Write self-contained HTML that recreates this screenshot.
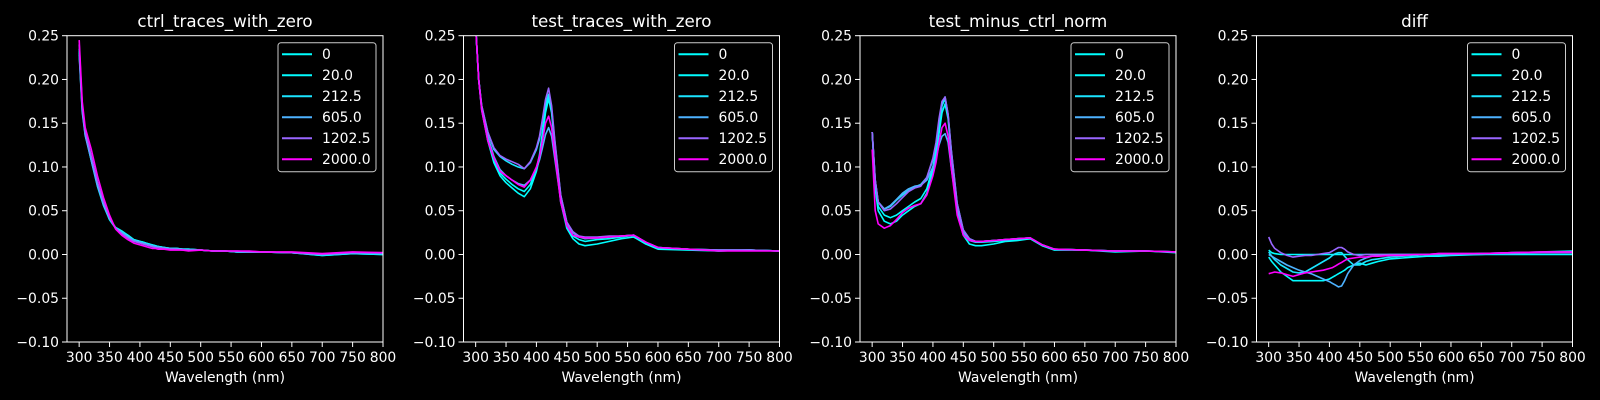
<!DOCTYPE html>
<html><head><meta charset="utf-8"><style>
html,body{margin:0;padding:0;background:#000;}
svg{display:block;}
text{font-family:"DejaVu Sans","Liberation Sans",sans-serif;fill:#fff;}
</style></head><body>
<svg id="fig" width="1600" height="400" xmlns="http://www.w3.org/2000/svg"></svg>
<script>
const wavelengths = [300,305,310,320,330,340,350,360,370,380,390,400,405,410,415,420,425,430,440,450,460,470,480,500,520,540,560,580,600,650,700,750,800];
const seriesLabels = ["0","20.0","212.5","605.0","1202.5","2000.0"];
const seriesColors = ["#00ffff","#03fcff","#1be4ff","#4db2ff","#9966ff","#ff00ff"];
const panelTitles = ["ctrl_traces_with_zero","test_traces_with_zero","test_minus_ctrl_norm","diff"];
const xTicks = [300,350,400,450,500,550,600,650,700,750,800];
const yTicks = [-0.10,-0.05,0.00,0.05,0.10,0.15,0.20,0.25];
const yTickLabels = ["\u22120.10","\u22120.05","0.00","0.05","0.10","0.15","0.20","0.25"];

const ctrl0 = [0.235,0.17,0.14,0.11,0.08,0.058,0.04,0.03,0.026,0.022,0.017,0.015,0.014,0.013,0.012,0.011,0.010,0.009,0.008,0.007,0.007,0.006,0.006,0.005,0.004,0.004,0.003,0.003,0.003,0.002,-0.001,0.001,0.000];
const ctrl1 = [0.232,0.168,0.138,0.108,0.079,0.057,0.04,0.031,0.027,0.022,0.017,0.015,0.014,0.013,0.012,0.011,0.010,0.009,0.008,0.007,0.007,0.006,0.006,0.005,0.004,0.004,0.003,0.003,0.003,0.002,-0.001,0.001,0.000];
const ctrl2 = [0.23,0.165,0.137,0.107,0.078,0.056,0.04,0.03,0.026,0.021,0.016,0.014,0.013,0.012,0.011,0.010,0.009,0.009,0.008,0.007,0.007,0.006,0.006,0.005,0.004,0.004,0.003,0.003,0.003,0.002,0.000,0.001,0.001];
const ctrl3 = [0.228,0.163,0.136,0.108,0.08,0.058,0.042,0.03,0.025,0.02,0.016,0.014,0.013,0.012,0.011,0.010,0.009,0.008,0.007,0.007,0.006,0.006,0.005,0.005,0.004,0.004,0.003,0.003,0.003,0.002,0.000,0.002,0.001];
const ctrl4 = [0.24,0.17,0.14,0.112,0.083,0.06,0.042,0.03,0.024,0.019,0.015,0.013,0.012,0.011,0.010,0.009,0.008,0.008,0.007,0.006,0.006,0.005,0.005,0.005,0.004,0.004,0.004,0.003,0.003,0.002,0.000,0.002,0.002];
const ctrl5 = [0.245,0.175,0.145,0.12,0.09,0.065,0.045,0.029,0.022,0.017,0.013,0.011,0.010,0.009,0.008,0.007,0.007,0.006,0.006,0.005,0.005,0.005,0.004,0.005,0.004,0.004,0.004,0.004,0.003,0.003,0.001,0.003,0.002];

const test0 = [0.26,0.2,0.165,0.13,0.105,0.09,0.082,0.076,0.07,0.066,0.075,0.095,0.11,0.135,0.162,0.178,0.162,0.125,0.06,0.03,0.018,0.012,0.01,0.012,0.015,0.018,0.02,0.012,0.006,0.005,0.004,0.005,0.004];
const test1 = [0.26,0.2,0.168,0.133,0.108,0.093,0.086,0.08,0.075,0.072,0.08,0.098,0.114,0.14,0.168,0.182,0.165,0.128,0.063,0.033,0.021,0.017,0.015,0.017,0.018,0.02,0.022,0.013,0.007,0.006,0.004,0.005,0.004];
const test2 = [0.26,0.2,0.17,0.14,0.12,0.112,0.107,0.103,0.1,0.098,0.105,0.12,0.132,0.152,0.172,0.183,0.166,0.13,0.068,0.037,0.025,0.02,0.018,0.019,0.02,0.021,0.022,0.014,0.008,0.006,0.005,0.005,0.004];
const test3 = [0.26,0.2,0.168,0.135,0.112,0.097,0.09,0.085,0.081,0.079,0.085,0.098,0.108,0.122,0.137,0.145,0.135,0.11,0.062,0.035,0.025,0.021,0.019,0.019,0.02,0.021,0.022,0.014,0.008,0.006,0.005,0.005,0.004];
const test4 = [0.26,0.2,0.17,0.14,0.122,0.113,0.109,0.106,0.103,0.098,0.106,0.122,0.135,0.155,0.177,0.19,0.17,0.132,0.068,0.037,0.026,0.021,0.02,0.02,0.021,0.021,0.022,0.014,0.008,0.006,0.005,0.005,0.004];
const test5 = [0.26,0.2,0.165,0.13,0.11,0.095,0.09,0.085,0.08,0.077,0.085,0.1,0.112,0.13,0.15,0.158,0.145,0.115,0.06,0.033,0.022,0.02,0.019,0.019,0.02,0.021,0.022,0.014,0.008,0.006,0.004,0.004,0.004];

const norm0 = [0.14,0.075,0.05,0.038,0.035,0.038,0.045,0.05,0.055,0.058,0.07,0.095,0.112,0.138,0.162,0.172,0.155,0.115,0.05,0.022,0.012,0.01,0.01,0.012,0.015,0.016,0.018,0.01,0.005,0.005,0.003,0.004,0.002];
const norm1 = [0.14,0.08,0.055,0.045,0.042,0.045,0.05,0.055,0.06,0.064,0.075,0.1,0.118,0.145,0.17,0.178,0.158,0.118,0.055,0.026,0.016,0.014,0.014,0.015,0.016,0.017,0.018,0.01,0.006,0.005,0.004,0.004,0.003];
const norm2 = [0.14,0.085,0.06,0.052,0.055,0.062,0.068,0.073,0.077,0.08,0.088,0.108,0.125,0.15,0.172,0.18,0.16,0.12,0.058,0.028,0.018,0.015,0.015,0.016,0.017,0.018,0.019,0.011,0.006,0.005,0.004,0.004,0.003];
const norm3 = [0.14,0.085,0.06,0.052,0.056,0.063,0.07,0.075,0.078,0.079,0.085,0.1,0.11,0.125,0.135,0.138,0.128,0.1,0.05,0.025,0.017,0.015,0.015,0.016,0.017,0.018,0.019,0.011,0.006,0.005,0.004,0.004,0.003];
const norm4 = [0.14,0.085,0.06,0.05,0.052,0.058,0.065,0.072,0.076,0.078,0.088,0.11,0.128,0.155,0.175,0.18,0.16,0.12,0.058,0.028,0.018,0.015,0.015,0.016,0.017,0.018,0.019,0.011,0.006,0.005,0.004,0.004,0.003];
const norm5 = [0.12,0.05,0.035,0.03,0.033,0.04,0.048,0.053,0.056,0.058,0.068,0.09,0.105,0.128,0.145,0.15,0.135,0.1,0.045,0.022,0.016,0.015,0.015,0.016,0.017,0.018,0.019,0.011,0.006,0.005,0.004,0.004,0.003];

const diff0 = [0.005,0.002,0.001,0,0,0,0,0,0,0,0,0,0,0,0,0,0,0,0,0,0,0,0,0,0,0,0,0,0,0,0,0,0];
const diff1 = [-0.003,-0.008,-0.012,-0.02,-0.025,-0.03,-0.03,-0.03,-0.03,-0.03,-0.03,-0.028,-0.026,-0.024,-0.022,-0.02,-0.018,-0.015,-0.012,-0.01,-0.012,-0.01,-0.008,-0.005,-0.004,-0.003,-0.002,-0.002,-0.001,0.0,0.002,0.003,0.004];
const diff2 = [0.003,-0.002,-0.006,-0.012,-0.016,-0.02,-0.021,-0.02,-0.016,-0.012,-0.008,-0.004,-0.001,0.001,0.002,0.002,-0.002,-0.006,-0.012,-0.012,-0.008,-0.006,-0.005,-0.003,-0.002,-0.001,0,0,0,0.001,0.002,0.002,0.002];
const diff3 = [0.0,-0.002,-0.004,-0.008,-0.012,-0.015,-0.018,-0.02,-0.022,-0.025,-0.028,-0.031,-0.033,-0.035,-0.037,-0.036,-0.03,-0.022,-0.012,-0.007,-0.004,-0.002,-0.001,0,0,0,0,0,0,0.001,0.001,0.002,0.002];
const diff4 = [0.02,0.012,0.007,0.002,-0.001,-0.003,-0.002,-0.001,-0.001,0,0.001,0.002,0.004,0.006,0.008,0.008,0.006,0.003,0,-0.001,0,0,0,0,0,0,0,0.001,0.001,0.001,0.002,0.002,0.002];
const diff5 = [-0.022,-0.021,-0.02,-0.021,-0.023,-0.025,-0.023,-0.021,-0.02,-0.019,-0.018,-0.016,-0.015,-0.013,-0.011,-0.009,-0.007,-0.005,-0.004,-0.003,-0.003,-0.002,-0.002,-0.001,-0.001,0,0,0.001,0.001,0.001,0.002,0.003,0.003];

const panelSeries = [[ctrl0,ctrl1,ctrl2,ctrl3,ctrl4,ctrl5],[test0,test1,test2,test3,test4,test5],[norm0,norm1,norm2,norm3,norm4,norm5],[diff0,diff1,diff2,diff3,diff4,diff5]];

const NS = "http://www.w3.org/2000/svg";
const svg = document.getElementById("fig");
const panelLefts = [67,463.5,860,1256.5];
const W = 316, TOP = 35.7, BOT = 342;
const XMIN = 280, XMAX = 800, YMIN = -0.10, YMAX = 0.25;

function el(tag, attrs, parent) {
  const e = document.createElementNS(NS, tag);
  for (const k in attrs) e.setAttribute(k, attrs[k]);
  (parent || svg).appendChild(e);
  return e;
}

panelTitles.forEach((title, p) => {
  const L = panelLefts[p], R = L + W;
  const xs = v => L + (v - XMIN) / (XMAX - XMIN) * W;
  const ys = v => BOT - (v - YMIN) / (YMAX - YMIN) * (BOT - TOP);
  const g = el("g", {});
  
  

  const clip = el("clipPath", {id: "clip" + p}, g);
  el("rect", {x: L, y: TOP, width: W, height: BOT - TOP}, clip);

  const t = el("text", {x: L + W / 2, y: 27, "text-anchor": "middle", "font-size": "16.7"}, g);
  t.textContent = title;
  
  

  // series
  const lines = el("g", {"clip-path": "url(#clip" + p + ")"}, g);
  panelSeries[p].forEach((vals, s) => {
    const d = vals.map((v, i) => (i ? "L" : "M") + xs(wavelengths[i]).toFixed(1) + "," + ys(v).toFixed(1)).join("");
    const path = el("path", {d: d, fill: "none", stroke: seriesColors[s], "stroke-width": "1.6", "stroke-linejoin": "round"}, lines);
    
    
  });

  // frame
  const frame = el("rect", {x: L, y: TOP, width: W, height: BOT - TOP, fill: "none", stroke: "#fff", "stroke-width": "1"}, g);
  
  

  // x ticks
  xTicks.forEach(v => {
    const x = xs(v);
    el("line", {x1: x, y1: BOT, x2: x, y2: BOT + 5, stroke: "#fff", "stroke-width": "1"}, g);
    const tl = el("text", {x: x, y: 362, "text-anchor": "middle", "font-size": "13.9"}, g);
    tl.textContent = v;
    
    
  });
  // y ticks
  yTicks.forEach((v, i) => {
    const y = ys(v);
    el("line", {x1: L - 5, y1: y, x2: L, y2: y, stroke: "#fff", "stroke-width": "1"}, g);
    const tl = el("text", {x: L - 8, y: y + 5, "text-anchor": "end", "font-size": "13.9"}, g);
    tl.textContent = yTickLabels[i];
    
    
  });
  const xl = el("text", {x: L + W / 2, y: 382, "text-anchor": "middle", "font-size": "13.9"}, g);
  xl.textContent = "Wavelength (nm)";
  
  

  // legend
  const lg = el("g", {}, g);
  
  
  el("rect", {x: R - 105, y: TOP + 7, width: 98, height: 129, rx: 3, fill: "#000", "fill-opacity": "0.8", stroke: "#ccc", "stroke-width": "1"}, lg);
  seriesLabels.forEach((lab, s) => {
    const y = TOP + 18.5 + s * 21;
    const eg = el("g", {}, lg);
    
    
    el("line", {x1: R - 101, y1: y, x2: R - 71, y2: y, stroke: seriesColors[s], "stroke-width": "2"}, eg);
    const lt = el("text", {x: R - 61, y: y + 5, "font-size": "13.9"}, eg);
    lt.textContent = lab;
  });
});
</script>
</body></html>
